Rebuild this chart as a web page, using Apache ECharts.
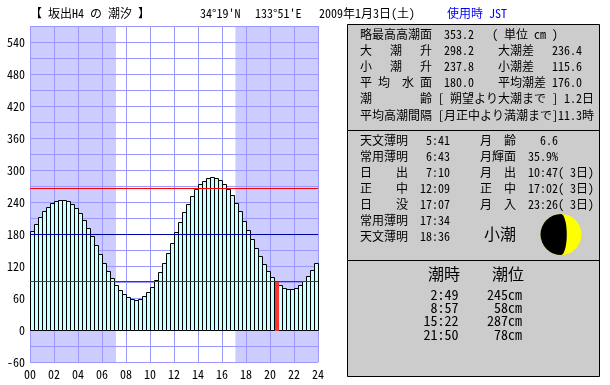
<!DOCTYPE html>
<html>
<head>
<meta charset="utf-8">
<style>html,body{margin:0;padding:0;background:#fff}#main{width:610px;height:385px}</style>
<script src="https://cdn.jsdelivr.net/npm/echarts@6/dist/echarts.min.js"></script>
</head>
<body>
<div id="main"></div>
<script>
// tide level (cm) every 20 minutes, from 00:00
var tideLevel = [186,199,212,223,231,238,242,244,244,242,236,229,
	219,206,191,176,159,142,126,111,97,84,75,67,
	62,58,56,58,64,71,81,94,109,126,144,163,
	184,202,221,236,251,264,274,279,285,287,285,281,
	274,264,253,238,223,204,187,170,153,138,123,110,
	99,91,84,78,76,76,78,84,92,101,112,126];
var nowIndex = 61;

var nightRanges = [[0, 7.17], [17.12, 24]];
var highLine = 266, meanLine = 180, lowLine = 92;

var headLeft = "【 坂出H4 の 潮汐 】";
var headPos = ["34°19'N", "133°51'E"];
var headDate = "2009年1月3日(土)";
var headZone = "使用時 JST";

var harmonicLines = [
	"略最高高潮面  353.2   ( 単位 cm )",
	"大   潮   升  298.2    大潮差   236.4",
	"小   潮   升  237.8    小潮差   115.6",
	"平 均  水 面  180.0    平均潮差 176.0",
	"潮        齢 [ 朔望より大潮まで ] 1.2日",
	"平均高潮間隔 [月正中より満潮まで]11.3時"
];
var sunMoonLines = [
	"天文薄明   5:41     月  齢    6.6",
	"常用薄明   6:43     月輝面  35.9%",
	"日    出   7:10     月  出  10:47( 3日)",
	"正    中  12:09     正  中  17:02( 3日)",
	"日    没  17:07     月  入  23:26( 3日)",
	"常用薄明  17:34",
	"天文薄明  18:36"
];
var tideName = "小潮";
var moonLit = 0.359;
var tideTimes = ["2:49", "8:57", "15:22", "21:50"];
var tideHeights = ["245cm", "58cm", "287cm", "78cm"];

var FONT = '"Noto Sans Mono CJK JP","Noto Sans CJK JP",monospace';

function txt(x, y, s, size, opt) {
	opt = opt || {};
	return {
		type: 'text', silent: true, z: 10,
		style: {
			x: x, y: y, text: s,
			font: size + 'px ' + FONT,
			fill: opt.fill || '#000',
			align: opt.align || 'left',
			verticalAlign: 'middle'
		}
	};
}
function box(y, h) {
	return {
		type: 'rect', silent: true, z: 5,
		shape: { x: 347.5, y: y, width: 252, height: h },
		style: { fill: '#cccccc', stroke: '#000', lineWidth: 1 }
	};
}

var gfx = [box(24.5, 106), box(130.5, 130), box(260.5, 116)];
gfx.push(txt(30, 13, headLeft, 12));
gfx.push(txt(200, 13, headPos[0], 12));
gfx.push(txt(255, 13, headPos[1], 12));
gfx.push(txt(319, 13, headDate, 12));
gfx.push(txt(447, 13, headZone, 12, { fill: '#0000ff' }));

var y1 = [34.5, 50.5, 66.5, 82.5, 98.5, 115];
harmonicLines.forEach(function (s, i) { gfx.push(txt(360, y1[i], s, 12)); });
var y2 = [140.5, 156.5, 172.5, 188.5, 204.5, 220.5, 236.5];
sunMoonLines.forEach(function (s, i) { gfx.push(txt(360, y2[i], s, 12)); });
gfx.push(txt(484, 234, tideName, 16));

// moon: yellow disc, dark half and terminator
var mx = 561, my = 234.5, mr = 20.5;
gfx.push({ type: 'circle', silent: true, z: 6, shape: { cx: mx, cy: my, r: mr }, style: { fill: '#ffff00' } });
gfx.push({ type: 'sector', silent: true, z: 7, shape: { cx: mx, cy: my, r: mr, startAngle: Math.PI / 2, endAngle: Math.PI * 1.5 }, style: { fill: '#000' } });
gfx.push({ type: 'ellipse', silent: true, z: 7, shape: { cx: mx, cy: my, rx: (1 - 2 * moonLit) * mr, ry: mr }, style: { fill: '#000' } });

gfx.push(txt(428, 274, "潮時", 16));
gfx.push(txt(492, 274, "潮位", 16));
tideTimes.forEach(function (s, i) {
	gfx.push(txt(458.5, 294.5 + i * 13.3, s, 14, { align: 'right' }));
	gfx.push(txt(522, 294.5 + i * 13.3, tideHeights[i], 14, { align: 'right' }));
});

var myChart = echarts.init(document.getElementById("main"), null, { renderer: 'canvas' });
var option = {
	animation: false,
	backgroundColor: '#fff',
	grid: { left: 30, top: 26, width: 288, height: 336 },
	xAxis: {
		type: 'value', min: 0, max: 24, interval: 2,
		axisLine: { show: false }, axisTick: { show: false },
		axisLabel: {
			color: '#000', fontFamily: FONT, fontSize: 12, margin: 6,
			formatter: function (v) { return (v < 10 ? '0' : '') + v; }
		},
		splitLine: { show: true, lineStyle: { color: '#9999ff', width: 1 } }
	},
	yAxis: {
		type: 'value', min: -60, max: 570, interval: 30,
		axisLine: { show: false }, axisTick: { show: false },
		axisLabel: {
			color: '#000', fontFamily: FONT, fontSize: 12, margin: 5,
			formatter: function (v) { return v % 60 == 0 ? v : ''; }
		},
		splitLine: { show: true, lineStyle: { color: '#9999ff', width: 1 } }
	},
	series: [
		{
			name: 'night', type: 'custom', z: -1, silent: true,
			data: nightRanges,
			encode: { x: [0, 1] },
			renderItem: function (params, api) {
				var a = api.coord([api.value(0), 570]);
				var b = api.coord([api.value(1), -60]);
				return { type: 'rect', shape: { x: a[0], y: a[1], width: b[0] - a[0], height: b[1] - a[1] }, style: { fill: '#ccccff' } };
			}
		},
		{
			name: 'tide', type: 'custom', z: 2, silent: true,
			data: tideLevel.map(function (v, i) { return [i / 3, v, i]; }),
			encode: { x: 0, y: 1 },
			clip: false,
			// each bar spans its own 20 minute slot, starting at the sample time
			renderItem: function (params, api) {
				var t = api.value(0), v = api.value(1);
				var a = api.coord([t, v]);
				var b = api.coord([t + 1 / 3, 0]);
				var isNow = api.value(2) == nowIndex;
				var inset = isNow ? 1 : 0;
				return {
					type: 'rect',
					z2: isNow ? 1 : 0,
					shape: {
						x: Math.round(a[0]) + 0.5 + inset, y: Math.round(a[1]) + 0.5,
						width: Math.round(b[0] - a[0]) - inset, height: Math.round(b[1]) - Math.round(a[1])
					},
					style: { fill: isNow ? '#ff3333' : '#ccffff', stroke: isNow ? '#ff3333' : '#000', lineWidth: 1 }
				};
			}
		},
		{
			name: 'levels', type: 'line', z: 3, silent: true,
			data: [],
			markLine: {
				silent: true, symbol: 'none', label: { show: false },
				data: [
					{ yAxis: highLine, lineStyle: { color: '#ff0000', width: 1, type: 'solid' } },
					{ yAxis: meanLine, lineStyle: { color: '#0000aa', width: 1, type: 'solid' } },
					{ yAxis: lowLine, lineStyle: { color: '#dd0000', width: 1, type: 'solid' } }
				]
			}
		}
	],
	graphic: { elements: gfx }
};
myChart.setOption(option);
</script>
</body>
</html>
